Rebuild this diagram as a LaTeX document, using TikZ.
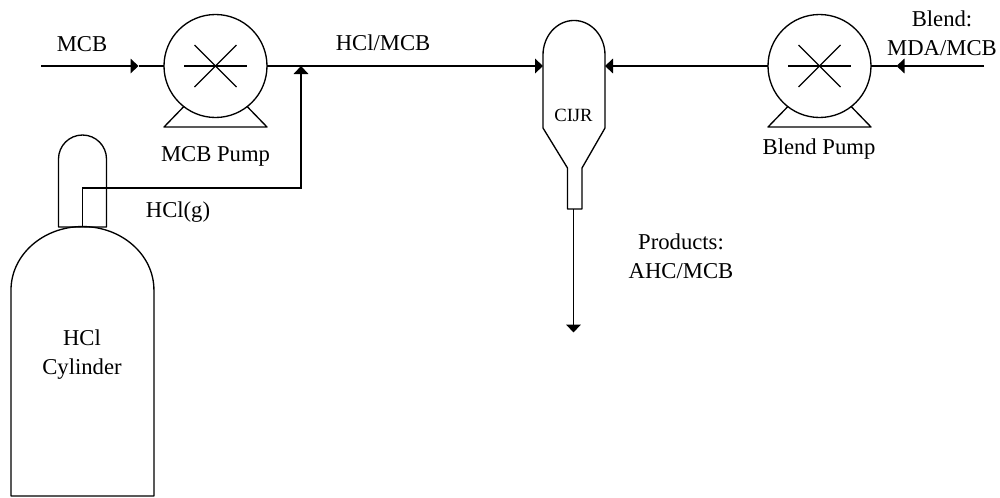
\documentclass[tikz,border=0pt]{standalone}
\usepackage{fontspec}
\setmainfont{Liberation Serif}
\usetikzlibrary{arrows.meta,positioning,calc}

\tikzset{
    pumpbody/.style={draw, circle, minimum size=77.25pt, inner sep=0pt, outer sep=0pt},
    vessel/.style={line width=1pt, line join=round},
    pipe/.style={line width=1pt},
    flow/.style={pipe, -{Triangle[length=6pt, width=11pt]}},
    lbl/.style={align=center, inner sep=0pt, font=\fontsize{17}{21.75}\selectfont},
}

\begin{document}
\begin{tikzpicture}[x=0.75pt, y=-0.75pt]
    \useasboundingbox (0,0) rectangle (1000,497);

    % pumps
    \foreach \pumpname/\pumpx in {mcbpump/215.5, blendpump/819.5} {
        \node[pumpbody, line width=1pt] (\pumpname) at (\pumpx,66) {};
        \draw[vessel] (\pumpname.232) -- (\pumpx-51.5,127) -- (\pumpx+51.5,127) -- (\pumpname.308);
        \draw[pipe] (\pumpx-31.5,66) -- (\pumpx+31.5,66);
        \draw[pipe] (\pumpx-21,45) -- (\pumpx+21,87);
        \draw[pipe] (\pumpx-21,87) -- (\pumpx+21,45);
    }

    % cylinder and valve
    \draw[vessel] (11,496) -- (11,290) arc[start angle=180, end angle=0, x radius=53.6pt, y radius=47.6pt] -- (154,496) -- cycle;
    \draw[vessel] (58.5,227) -- (58.5,159) arc[start angle=180, end angle=0, radius=18pt] -- (106.5,227) -- cycle;

    % reactor
    \draw[vessel] (543,128) -- (543,55) arc[start angle=180, end angle=0, x radius=23.25pt, y radius=25.9pt] -- (605,128) -- (582,168) -- (582,209) -- (567.5,209) -- (567.5,168) -- cycle;

    \coordinate (mcbin) at (41,66);
    \coordinate (mcbtip) at (138.5,66);
    \coordinate (junction) at (301,66);
    \coordinate (hclstart) at (82.5,227);
    \coordinate (hclcorner) at (82.5,188);
    \coordinate (hclturn) at (301,188);
    \coordinate (cijrwest) at (543,66);
    \coordinate (cijreast) at (605,66);
    \coordinate (cijrout) at (573.5,209);
    \coordinate (productend) at (573.5,332.5);
    \coordinate (blendin) at (984,66);
    \coordinate (blendtip) at (896.5,66);

    % connectors
    \draw[flow] (mcbin) -- (mcbtip);
    \draw[pipe] (mcbtip) -- (mcbpump);
    \draw[flow] (mcbpump) -- (cijrwest);
    \draw[flow] (hclstart) -- (hclcorner) -- (hclturn) -- (junction);
    \draw[flow] (blendin) -- (blendtip);
    \draw[pipe] (blendtip) -- (blendpump);
    \draw[flow] (blendpump) -- (cijreast);
    \draw[flow] (cijrout) -- (productend);

    % labels
    \node[lbl] (mcblabel) at (82,44) {MCB};
    \node[lbl] (mcbpumplabel) at (215.5,156) {MCB Pump};
    \node[lbl] (hclglabel) at (178,212) {HCl(g)};
    \node[lbl] (mixlabel) at (383,43) {HCl/MCB};
    \node[lbl, font=\fontsize{14}{17}\selectfont] (cijrlabel) at (573.5,115) {CIJR};
    \node[lbl] (productlabel) at (681,256.5) {Products:\\AHC/MCB};
    \node[lbl] (blendlabel) at (942,33.5) {Blend:\\MDA/MCB};
    \node[lbl] (blendpumplabel) at (819,149) {Blend Pump};
    \node[lbl] (cylinderlabel) at (82,354.5) {HCl\\Cylinder};
\end{tikzpicture}
\end{document}
